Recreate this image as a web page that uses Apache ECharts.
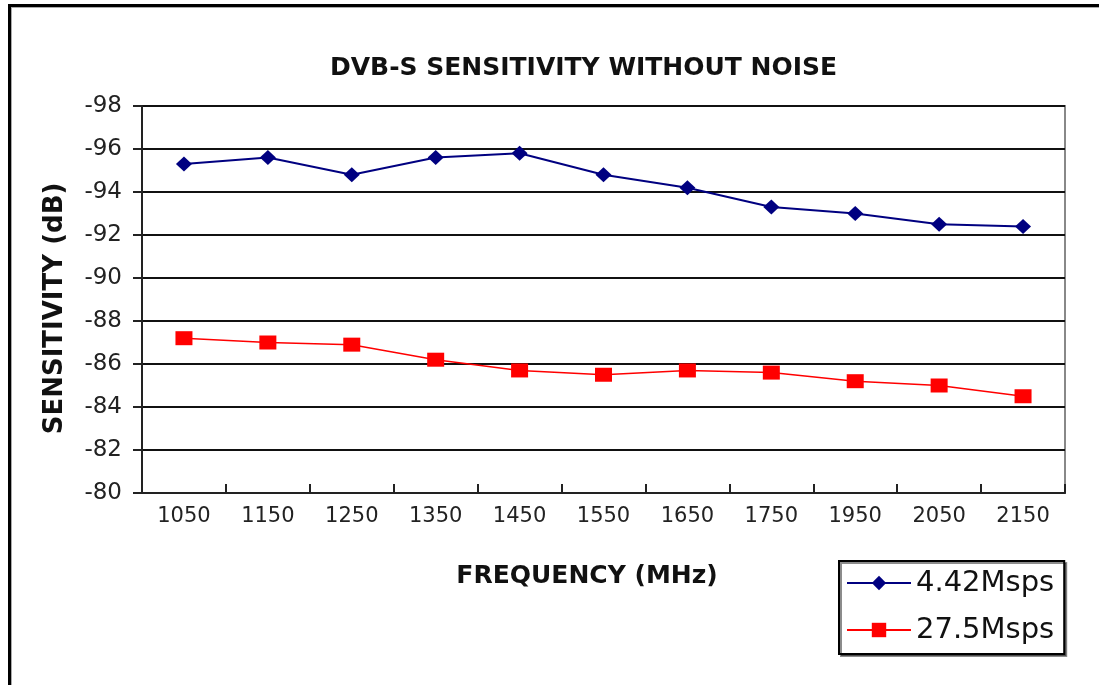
<!DOCTYPE html>
<html>
<head>
<meta charset="utf-8">
<script src="https://cdn.jsdelivr.net/npm/echarts@6/dist/echarts.min.js"></script>
<style>
html,body{margin:0;padding:0;background:#fff;}
#c{width:1099px;height:685px;}
</style>
</head>
<body>
<div id="c"></div>
<script>
const categories = ['1050','1150','1250','1350','1450','1550','1650','1750','1950','2050','2150'];
const series442 = [-95.3, -95.6, -94.8, -95.6, -95.8, -94.8, -94.2, -93.3, -93.0, -92.5, -92.4];
const series275 = [-87.2, -87.0, -86.9, -86.2, -85.7, -85.5, -85.7, -85.6, -85.2, -85.0, -84.5];
const seriesNames = ['4.42Msps', '27.5Msps'];
const titleText = 'DVB-S SENSITIVITY WITHOUT NOISE';
const xName = 'FREQUENCY (MHz)';
const yName = 'SENSITIVITY (dB)';

const chart = echarts.init(document.getElementById('c'), null, {renderer: 'canvas'});
const FONT = 'DejaVu Sans';
chart.setOption({
  animation: false,
  backgroundColor: '#fff',
  title: {
    text: titleText,
    left: 325, top: 51,
    textStyle: {fontFamily: FONT, fontWeight: 'bold', fontSize: 25, color: '#111'}
  },
  grid: {
    left: 142, top: 106, right: 34, bottom: 192,
    show: true, borderColor: '#888', borderWidth: 2, backgroundColor: '#fff'
  },
  legend: {
    orient: 'vertical',
    left: 839, top: 561,
    padding: [6, 10, 8, 7],
    itemWidth: 64, itemHeight: 18, itemGap: 15,
    borderColor: '#000', borderWidth: 2, backgroundColor: '#fff',
    shadowColor: 'rgba(0,0,0,0.45)', shadowOffsetX: 2, shadowOffsetY: 2, shadowBlur: 0,
    textStyle: {fontFamily: FONT, fontSize: 29, color: '#111', lineHeight: 32},
    data: seriesNames
  },
  xAxis: {
    type: 'category',
    data: categories,
    boundaryGap: true,
    name: xName,
    nameLocation: 'middle',
    nameGap: 71,
    nameTextStyle: {fontFamily: FONT, fontWeight: 'bold', fontSize: 25, color: '#111', padding: [0, 33, 0, 0]},
    axisLine: {lineStyle: {color: '#222', width: 2}},
    axisTick: {show: true, inside: true, length: 9, lineStyle: {color: '#222', width: 2}},
    axisLabel: {fontFamily: FONT, fontSize: 21, color: '#222', margin: 13, interval: 0},
    splitLine: {show: false}
  },
  yAxis: {
    type: 'value',
    inverse: true,
    min: -98, max: -80, interval: 2,
    name: yName,
    nameLocation: 'middle',
    nameRotate: 90,
    nameGap: 74,
    nameTextStyle: {fontFamily: FONT, fontWeight: 'bold', fontSize: 26, color: '#111', padding: [0, 18, 0, 0]},
    axisLine: {show: true, lineStyle: {color: '#222', width: 2}},
    axisTick: {show: true, inside: false, length: 9, lineStyle: {color: '#222', width: 2}},
    axisLabel: {fontFamily: FONT, fontSize: 23, color: '#222', margin: 20},
    splitLine: {show: true, lineStyle: {color: '#111', width: 2}}
  },
  series: [
    {
      name: seriesNames[0], type: 'line', data: series442,
      symbol: 'diamond', symbolSize: [16, 15],
      lineStyle: {color: '#000080', width: 2},
      itemStyle: {color: '#000080'}
    },
    {
      name: seriesNames[1], type: 'line', data: series275,
      symbol: 'rect', symbolSize: [17, 14],
      lineStyle: {color: '#ff0000', width: 1.5},
      itemStyle: {color: '#ff0000'}
    }
  ],
  graphic: [
    {type: 'rect', shape: {x: 8, y: 4, width: 3, height: 681}, style: {fill: '#000'}, silent: true},
    {type: 'rect', shape: {x: 8, y: 4, width: 1091, height: 3}, style: {fill: '#000'}, silent: true},
    {type: 'rect', shape: {x: 11, y: 7, width: 1, height: 678}, style: {fill: '#aaa'}, silent: true},
    {type: 'rect', shape: {x: 11, y: 7, width: 1088, height: 1}, style: {fill: '#aaa'}, silent: true}
  ]
});
</script>
</body>
</html>
